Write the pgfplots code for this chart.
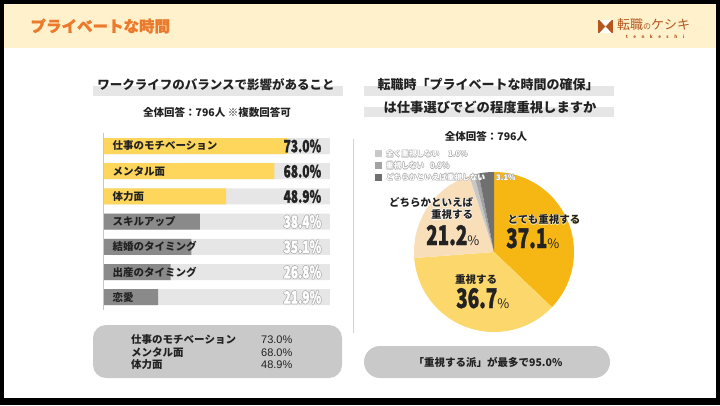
\documentclass[border=0pt]{standalone}
\usepackage{pgfplots}
\pgfplotsset{compat=1.18}
\usepackage{pgfplotstable}
\usepackage{fontspec}
\setmainfont{Noto Sans CJK JP}
\newfontfamily\condfont[FakeStretch=0.7, FakeBold=1.2]{Noto Sans CJK JP}
\newfontfamily\heavyfont[FakeBold=1.4]{Noto Sans CJK JP}
\newfontfamily\arialfont{Liberation Sans}

\definecolor{hdr}{HTML}{FFF1CC}
\definecolor{ttl}{HTML}{EC7A2C}
\definecolor{logo}{HTML}{B4561E}
\definecolor{band}{HTML}{E6E6E6}
\definecolor{barbg}{HTML}{E6E6E6}
\definecolor{baryel}{HTML}{FFD65C}
\definecolor{bargry}{HTML}{8A8A8A}
\definecolor{boxg}{HTML}{C9C9C9}
\definecolor{txt}{HTML}{222222}
\definecolor{pcc0}{HTML}{F6B614}
\definecolor{pcc1}{HTML}{FCD86C}
\definecolor{pcc2}{HTML}{F8DFBA}
\definecolor{pcc3}{HTML}{C8C8C8}
\definecolor{pcc4}{HTML}{A3A3A3}
\definecolor{pcc5}{HTML}{707070}
\definecolor{glowy}{HTML}{FFF3C6}

% outlined text: #1 outline colour, #2 fill colour, #3 text
\newcommand\outl[3]{\leavevmode\rlap{\color{#1}\raisebox{0.6pt}{#3}}\rlap{\color{#1}\raisebox{-0.6pt}{#3}}\rlap{\color{#1}\hspace{0.6pt}#3}\rlap{\color{#1}\hspace{-0.6pt}#3}{\color{#2}#3}}

\pgfplotstableread{
val
37.1
36.7
21.2
1.0
0.9
3.1
}\piedata

\begin{document}
\begin{tikzpicture}
\useasboundingbox (0,0) rectangle (720pt,405pt);
\begin{scope}[yshift=405pt, x=1pt, y=-1pt]
  \fill[black] (0,0) rectangle (720,405);
  \fill[white] (4,4) rectangle (716,398);
  \fill[hdr] (4,4) rectangle (716,48);
  \node[anchor=west, text=ttl, font=\heavyfont\bfseries\fontsize{15.5}{15.5}\selectfont] at (27,26) {プライベートな時間};
  % logo
  \fill[logo] (598,20) rectangle (613,33);
  \fill[white] (599.5,20) -- (611.5,20) -- (605.5,26.5) -- cycle;
  \fill[white] (599.5,33) -- (611.5,33) -- (605.5,26.5) -- cycle;
  \node[anchor=west, text=logo, font=\fontsize{13}{13}\selectfont, inner sep=0pt] at (617,25) {転職{\fontsize{8}{8}\selectfont の}ケシキ};
  \node[text=logo, font=\bfseries\fontsize{4.5}{5}\selectfont, inner sep=0pt] at (655,36.5) {t\hspace{5.5pt}e\hspace{5.5pt}n\hspace{5.5pt}k\hspace{5.5pt}e\hspace{5.5pt}s\hspace{5.5pt}h\hspace{5.5pt}i};
  % left titles
  \fill[band] (93,86) rectangle (343,96);
  \node[text=txt, font=\bfseries\fontsize{12.5}{12.5}\selectfont] at (216,85) {ワークライフのバランスで影響があること};
  \node[text=txt, font=\bfseries\fontsize{10.5}{10.5}\selectfont] at (217,112.5) {全体回答：796人 ※複数回答可};
  % separator
  \draw[gray!35, line width=1pt] (353,139) -- (353,333);
  % right titles
  \fill[band] (364,86) rectangle (614,96);
  \fill[band] (364,107) rectangle (614,117);
  \node[text=txt, font=\bfseries\fontsize{13}{13}\selectfont] at (488,85) {転職時「プライベートな時間の確保」};
  \node[text=txt, font=\bfseries\fontsize{13.3}{13.3}\selectfont] at (490,107.5) {は仕事選びでどの程度重視しますか};
  \node[text=txt, font=\bfseries\fontsize{10.5}{10.5}\selectfont] at (486,136) {全体回答：796人};
  % bottom boxes
  \fill[boxg, rounded corners=13pt] (93,325) rectangle (342,378);
  \node[anchor=west, text=txt, font=\bfseries\fontsize{10.5}{10.5}\selectfont, inner sep=0pt] at (131,340) {仕事のモチベーション};
  \node[anchor=west, text=txt, font=\bfseries\fontsize{10.5}{10.5}\selectfont, inner sep=0pt] at (131,352.5) {メンタル面};
  \node[anchor=west, text=txt, font=\bfseries\fontsize{10.5}{10.5}\selectfont, inner sep=0pt] at (131,365) {体力面};
  \node[anchor=west, text=txt, font=\arialfont\fontsize{11}{11}\selectfont, inner sep=0pt] at (261,340) {73.0\%};
  \node[anchor=west, text=txt, font=\arialfont\fontsize{11}{11}\selectfont, inner sep=0pt] at (261,352.5) {68.0\%};
  \node[anchor=west, text=txt, font=\arialfont\fontsize{11}{11}\selectfont, inner sep=0pt] at (261,365) {48.9\%};
  \fill[boxg, rounded corners=16pt] (364,346) rectangle (610,378);
  \node[text=txt, font=\bfseries\fontsize{10.5}{10.5}\selectfont] at (488,362) {「重視する派」が最多で95.0\%};
\end{scope}

% ---------- bar chart ----------
\begin{axis}[
  at={(103pt,271.6pt)}, anchor=north west,
  x=2.52pt, y=25.2pt,
  xmin=0, xmax=90, ymin=-0.5, ymax=6.5, y dir=reverse,
  enlargelimits=false,
  xbar, bar width=16pt, bar shift=0pt,
  axis x line=none, axis y line=left,
  y axis line style={-, draw=gray!45, line width=0.9pt},
  ytick={0,...,6},
  yticklabels={仕事のモチベーション, メンタル面, 体力面, スキルアップ, 結婚のタイミング, 出産のタイミング, 恋愛},
  major tick length=0pt,
  yticklabel style={anchor=west, xshift=6pt, font=\bfseries\fontsize{10.5}{10.5}\selectfont, text=txt},
  axis on top,
  clip=false,
]
\addplot[fill=barbg, draw=none] coordinates {(90,0) (90,1) (90,2) (90,3) (90,4) (90,5) (90,6)};
\addplot[fill=baryel, draw=none] coordinates {(73.0,0) (68.0,1) (48.9,2)};
\addplot[fill=bargry, draw=none] coordinates {(38.4,3) (35.1,4) (26.8,5) (21.9,6)};
\addplot[draw=none, fill=none, point meta=explicit symbolic,
  nodes near coords={\pgfplotspointmeta\%},
  every node near coord/.append style={anchor=east, xshift=-5pt, text=txt, font=\condfont\bfseries\fontsize{17}{17}\selectfont}]
  coordinates {(90,0) [73.0] (90,1) [68.0] (90,2) [48.9]};
\addplot[draw=none, fill=none, point meta=explicit symbolic,
  nodes near coords={\outl{gray!70}{white}{\pgfplotspointmeta\%}},
  every node near coord/.append style={anchor=east, xshift=-5pt, font=\condfont\bfseries\fontsize{17}{17}\selectfont}]
  coordinates {(90,3) [38.4] (90,4) [35.1] (90,5) [26.8] (90,6) [21.9]};
\end{axis}

% ---------- pie chart ----------
\gdef\cumang{90}
\foreach \i in {0,...,5}{
  \pgfplotstablegetelem{\i}{val}\of\piedata
  \pgfmathsetmacro\aa{\cumang}
  \pgfmathsetmacro\bb{\cumang-3.6*\pgfplotsretval}
  \expandafter\xdef\csname pa\i\endcsname{\aa}
  \expandafter\xdef\csname pb\i\endcsname{\bb}
  \xdef\cumang{\bb}
}
\begin{axis}[
  at={(494pt,153pt)}, anchor=center,
  x=1pt, y=1pt, xmin=-82, xmax=82, ymin=-82, ymax=82,
  hide axis, clip=false,
]
\pgfplotsinvokeforeach{0,...,5}{
  \fill[pcc#1] (axis cs:0,0) -- ++(\csname pa#1\endcsname:80pt) arc[start angle=\csname pa#1\endcsname, end angle=\csname pb#1\endcsname, radius=80pt] -- cycle;
}
\end{axis}

\begin{scope}[yshift=405pt, x=1pt, y=-1pt]
  % legend
  \fill[pcc3] (375,150.5) rectangle (382,157.5);
  \fill[pcc4] (375,162) rectangle (382,169);
  \fill[pcc5] (375,174) rectangle (382,181);
  \node[anchor=west, inner sep=0pt, font=\bfseries\fontsize{7.6}{7.6}\selectfont] at (386,154) {\outl{gray!65}{white}{全く重視しない}};
  \node[anchor=west, inner sep=0pt, font=\bfseries\fontsize{7.6}{7.6}\selectfont] at (448,154) {\outl{gray!65}{white}{1.0\%}};
  \node[anchor=west, inner sep=0pt, font=\bfseries\fontsize{7.6}{7.6}\selectfont] at (386,165.7) {\outl{gray!65}{white}{重視しない}};
  \node[anchor=west, inner sep=0pt, font=\bfseries\fontsize{7.6}{7.6}\selectfont] at (430,165.7) {\outl{gray!65}{white}{0.9\%}};
  \node[anchor=west, inner sep=0pt, font=\bfseries\fontsize{7.6}{7.6}\selectfont] at (386,177.5) {\outl{gray!65}{white}{どちらかといえば重視しない}};
  \node[anchor=west, inner sep=0pt, font=\bfseries\fontsize{7.6}{7.6}\selectfont] at (496,177.5) {\outl{gray!65}{white}{3.1\%}};
  % pie labels
  \node[font=\bfseries\fontsize{10.5}{10.5}\selectfont] at (544,220) {\outl{glowy}{txt}{とても重視する}};
  \node[anchor=base west, inner sep=0pt, text=txt] at (506,248) {{\condfont\bfseries\fontsize{27}{27}\selectfont 37.1}{\fontsize{13}{13}\selectfont\%}};
  \node[font=\bfseries\fontsize{10.5}{10.5}\selectfont, text=txt] at (476,280) {重視する};
  \node[anchor=base west, inner sep=0pt, text=txt] at (456,308) {{\condfont\bfseries\fontsize{27}{27}\selectfont 36.7}{\fontsize{13}{13}\selectfont\%}};
  \node[font=\bfseries\fontsize{10.5}{10.5}\selectfont] at (431,203) {\outl{white}{txt}{どちらかといえば}};
  \node[font=\bfseries\fontsize{10.5}{10.5}\selectfont] at (452,214.5) {\outl{white}{txt}{重視する}};
  \node[anchor=base west, inner sep=0pt, text=txt] at (426,245) {{\condfont\bfseries\fontsize{27}{27}\selectfont 21.2}{\fontsize{13}{13}\selectfont\%}};
\end{scope}
\end{tikzpicture}
\end{document}
